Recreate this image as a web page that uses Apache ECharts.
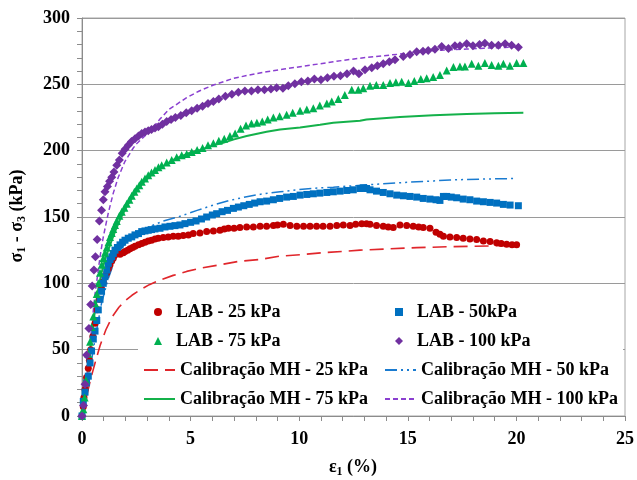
<!DOCTYPE html>
<html><head><meta charset="utf-8">
<script src="https://cdn.jsdelivr.net/npm/echarts@6/dist/echarts.min.js"></script>
<style>html,body{margin:0;padding:0;background:#fff}#c{width:637px;height:480px}</style>
</head><body><div id="c"></div>
<script>
// ---- data (strain %, deviator stress kPa) ----
const lab25 = [[0,0],[0.06,7],[0.09,14],[0.14,20],[0.21,29],[0.29,36],[0.34,42],[0.4,50],[0.5,60],[0.6,70],[0.7,80],[0.8,88],[0.9,96],[0.98,101],[1.06,105],[1.14,108],[1.21,111],[1.29,114],[1.37,117],[1.44,119],[1.52,121.5],[1.6,123.5],[1.75,122],[1.9,123],[1.98,124],[2.1,125],[2.21,126],[2.33,127],[2.44,128],[2.6,129],[2.75,130],[2.9,131],[3.05,132],[3.2,132.5],[3.36,133.5],[3.51,134],[3.74,134.5],[3.97,135],[4.2,135.5],[4.43,135.5],[4.66,136],[4.9,136.5],[5.12,137.5],[5.43,138],[5.74,139],[6.05,139.5],[6.35,140],[6.55,141],[6.74,141.5],[7.0,141.5],[7.27,142],[7.58,142.5],[7.89,142.5],[8.2,143],[8.5,143],[8.81,143.5],[9.0,144],[9.27,144.5],[9.58,143.5],[9.89,143],[10.2,143],[10.5,143],[10.8,143],[11.1,143],[11.42,143],[11.73,143.5],[12.03,144],[12.34,143.5],[12.6,144.5],[12.88,145],[13.1,145],[13.26,144.5],[13.56,143.5],[13.87,143],[14.1,142.5],[14.33,142],[14.64,144],[14.95,143.5],[15.25,143],[15.5,142.5],[15.71,142],[16.02,141.5],[16.3,138.5],[16.48,137],[16.64,135.5],[16.94,135],[17.25,134.5],[17.55,134],[17.86,133.5],[18.17,133],[18.48,132],[18.79,131.5],[19.09,130.5],[19.3,130],[19.55,129.5],[19.8,129],[20.01,129]];
const lab50 = [[0,0],[0.06,11],[0.14,18],[0.21,25],[0.29,30],[0.37,40],[0.44,49],[0.52,58],[0.6,64],[0.68,72],[0.75,80],[0.83,88],[0.9,94],[0.98,100],[1.06,105],[1.14,110],[1.21,115],[1.29,118],[1.37,120],[1.44,122.5],[1.52,125],[1.63,127],[1.75,129],[1.87,131],[1.98,132.5],[2.13,134],[2.29,135],[2.44,136.5],[2.6,137.5],[2.75,139],[2.9,139.5],[3.05,140],[3.2,140.5],[3.36,141],[3.59,141.5],[3.82,142.5],[4.05,143],[4.28,143.5],[4.51,144],[4.74,145],[5.0,146],[5.25,147],[5.5,148.5],[5.74,150],[6.0,151.5],[6.2,152.5],[6.45,154],[6.7,155],[6.97,156.5],[7.2,157.5],[7.45,158.5],[7.7,159.5],[7.95,160.5],[8.2,161.5],[8.5,162],[8.81,163],[9.1,164],[9.42,165],[9.73,165.5],[10.04,166.5],[10.35,167],[10.65,167.5],[10.95,168],[11.27,168.5],[11.57,169],[11.88,169.5],[12.19,170],[12.49,170.5],[12.8,171.5],[12.95,172],[13.1,171.5],[13.26,170.5],[13.56,169.5],[13.87,168.5],[14.18,167.5],[14.49,166.5],[14.8,166],[15.1,165.5],[15.41,165],[15.71,164],[16.02,163.5],[16.3,163],[16.48,162.5],[16.64,165.5],[16.79,165.5],[17.0,165],[17.25,164.5],[17.55,163.5],[17.86,163],[18.17,162],[18.48,161.5],[18.79,161],[19.09,160.5],[19.4,159.5],[19.71,159],[20.09,158.5]];
const lab75 = [[0,0],[0.06,5],[0.12,14],[0.18,27],[0.29,47],[0.37,56],[0.44,67],[0.52,75],[0.6,85],[0.68,92],[0.75,100],[0.83,108],[0.91,114],[0.98,119],[1.06,123],[1.14,127],[1.22,131],[1.29,135],[1.37,138],[1.44,141],[1.52,144],[1.6,147],[1.72,151],[1.83,154],[1.95,157],[2.06,160],[2.18,163],[2.29,166],[2.41,169],[2.52,171.5],[2.64,174],[2.75,176.5],[2.9,179],[3.05,181.5],[3.2,183.5],[3.36,185.5],[3.52,187.5],[3.67,189],[3.9,191],[4.13,193],[4.36,195],[4.59,196.5],[4.82,197.5],[5.05,199],[5.3,200.5],[5.55,202],[5.8,204],[6.05,205.5],[6.3,207.5],[6.55,209],[6.81,211],[7.05,213],[7.3,216.5],[7.55,219],[7.8,220.5],[8.05,221],[8.3,222],[8.55,223.5],[8.81,225],[9.1,226],[9.42,227],[9.7,228.5],[10.04,230],[10.35,231],[10.65,232],[10.95,234],[11.27,235.5],[11.5,237],[11.8,239],[12.1,242],[12.42,246],[12.72,246],[12.95,247],[13.26,249],[13.55,249.5],[13.87,249.5],[14.18,251],[14.45,251.5],[14.72,252],[15.03,251],[15.3,252.5],[15.6,254],[15.87,254.5],[16.17,255.5],[16.48,257],[16.79,260.5],[17.1,263],[17.4,263.5],[17.63,263.5],[17.94,265.5],[18.25,264],[18.55,266],[18.86,264.5],[19.17,264],[19.4,265.5],[19.7,264],[20.01,266],[20.32,266]];
const lab100 = [[0,0],[0.07,8],[0.14,24],[0.21,46],[0.32,66],[0.4,84],[0.47,98],[0.55,110],[0.62,120],[0.7,133],[0.8,147],[0.9,155],[0.98,163],[1.06,169],[1.17,173],[1.27,177],[1.37,180],[1.47,184],[1.6,189],[1.72,193],[1.85,198],[1.98,201],[2.13,204],[2.28,207],[2.44,209],[2.6,211],[2.75,213],[2.9,214],[3.05,215],[3.2,216],[3.36,217],[3.52,218],[3.7,220],[3.9,222],[4.1,223.5],[4.3,225],[4.55,226.5],[4.8,228.5],[5.05,230],[5.3,232],[5.55,233.5],[5.8,235.5],[6.05,237],[6.3,239],[6.6,241],[6.9,242.5],[7.2,244],[7.5,245],[7.8,245],[8.1,246],[8.4,246],[8.7,246.5],[8.96,247.5],[9.25,247],[9.5,249],[9.8,250.5],[10.1,252],[10.4,252.5],[10.7,254],[11.0,253.5],[11.3,255],[11.6,256],[11.9,256.5],[12.2,258],[12.5,260],[12.75,258],[13.03,261],[13.34,262.5],[13.6,264],[13.87,265.5],[14.15,267],[14.41,268.5],[14.79,271],[15.1,272.5],[15.41,274.5],[15.7,275],[15.94,275.5],[16.25,276.5],[16.56,278.5],[16.87,277],[17.17,279],[17.4,279],[17.71,280.5],[18.0,279],[18.3,280],[18.55,281],[18.86,279.5],[19.17,279.5],[19.48,280.5],[19.78,279.5],[20.09,278]];
const mh25 = [[0,0],[0.2,14],[0.4,28],[0.6,40],[0.83,53],[1.1,65],[1.4,75],[1.7,82],[2.0,87],[2.3,91],[2.67,95],[3.1,99],[3.59,102.5],[4.2,106],[4.82,109],[5.5,111.5],[6.35,114],[7.2,116.5],[8.2,118],[9.12,120.5],[10.04,121.5],[11,123],[12,124],[12.8,125],[13.87,125.8],[15.41,126.9],[16.94,127.6],[18.79,128.2],[20.1,128.8]];
const mh50 = [[0,0],[0.3,28],[0.6,58],[0.9,85],[1.2,103],[1.5,117],[1.8,126],[2.1,132],[2.5,137],[3.0,142],[3.74,147],[4.51,150.5],[5.3,155],[6.05,159],[6.8,162.5],[7.58,165.3],[8.35,167.5],[9.12,169],[9.9,170.5],[10.65,171.6],[11.57,172.5],[12.49,173.5],[13.2,174.3],[13.87,175],[14.6,175.8],[15.41,176.6],[16.2,177.2],[16.94,177.9],[17.7,178.3],[18.48,178.6],[19.2,178.8],[19.94,179]];
const mh75 = [[0,0],[0.1,8],[0.2,22],[0.3,40],[0.45,60],[0.6,80],[0.75,96],[0.9,108],[1.06,118],[1.29,129],[1.52,139],[1.75,148],[2.06,158],[2.44,168],[2.82,176],[3.28,183],[3.8,189],[4.3,194],[4.9,198],[5.43,200.5],[6.05,204],[6.5,206],[7.0,208.5],[7.58,211],[8.5,214.3],[9.12,216],[10.04,217.5],[10.96,219.5],[11.57,221],[12.8,222.5],[13.1,223.5],[14.64,225.3],[16.17,226.7],[17.71,227.6],[19,228.2],[20.32,228.6]];
const mh100 = [[0,0],[0.15,18],[0.3,40],[0.45,68],[0.6,92],[0.7,104],[0.83,120],[0.98,135],[1.21,153],[1.44,168],[1.67,180],[1.98,192],[2.36,202],[2.5,205],[2.82,210],[3.2,216],[3.6,224],[4.0,231],[4.82,240],[5.4,245],[6.05,249.5],[6.97,254.5],[7.7,257],[8.5,259.5],[9.3,261.5],[10.04,263.3],[10.96,265.5],[11.57,267],[12.3,268.7],[13.1,270.3],[13.9,271.6],[14.64,272.8],[15.4,274.1],[16.17,275.4],[16.9,276],[17.71,276.6],[18.5,277.2],[19.24,277.6],[20.09,278.3]];
const names = ['LAB - 25 kPa','LAB - 50kPa','LAB - 75 kPa','LAB - 100 kPa','Calibração MH - 25 kPa','Calibração MH - 50 kPa','Calibração MH - 75 kPa','Calibração MH - 100 kPa'];
const xMin = 0, xMax = 25, xStep = 5;
const yMin = 0, yMax = 300, yStep = 50;

const FONT = 'Liberation Serif';
const txt = {fontFamily: FONT, fontWeight: 'bold', fontSize: 18, color: '#000'};

function lineS(name, data, color, type, width){
  return {name, type:'line', data, symbol:'none', smooth:false, z:2,
    lineStyle:{color, width, type}, itemStyle:{color}};
}
function scat(name, data, color, symbol, size){
  return {name, type:'scatter', data, symbol, symbolSize:size, symbolKeepAspect:true, z:3,
    itemStyle:{color, opacity:1}};
}
const series = [
  lineS(names[4], mh25, '#e0262b', [14,7], 1.6),
  lineS(names[5], mh50, '#1a7bd0', [12,4,2,4,2,4], 1.5),
  lineS(names[6], mh75, '#14b14a', 'solid', 2),
  lineS(names[7], mh100, '#8a3fd0', [5,3], 1.5),
  scat(names[0], lab25, '#c00000', 'circle', 7),
  scat(names[1], lab50, '#0070c0', 'rect', 7),
  scat(names[2], lab75, '#00b050', 'triangle', 8),
  scat(names[3], lab100, '#7030a0', 'diamond', 9),
];

const col1 = 143, col2 = 384;
const rows = [312, 341, 370, 399];
// [series index, left, row centre, isLine]
const legPos = [
  [0, col1, rows[0], false],[1, col2, rows[0], false],
  [2, col1, rows[1], false],[3, col2, rows[1], false],
  [4, col1, rows[2], true],[5, col2, rows[2], true],
  [6, col1, rows[3], true],[7, col2, rows[3], true],
];
const legends = legPos.map(p => {
  if (p[3]) {
    return {data:[names[p[0]]], left:p[1], top:p[2]-9, itemWidth:31, itemHeight:14,
      padding:0, itemGap:0, textStyle:Object.assign({}, txt), selectedMode:false,
      itemStyle:{opacity:0, borderWidth:0}};
  }
  return {data:[names[p[0]]], left:p[1]+11, top:p[2]-9, itemWidth:8, itemHeight:8,
    symbolKeepAspect:true,
    padding:0, itemGap:0, textStyle:Object.assign({padding:[0,0,0,9]}, txt), selectedMode:false};
});

const option = {
  animation:false,
  backgroundColor:'#fff',
  grid:{left:82, right:12, top:18, bottom:64, show:true, borderColor:'#a6a6a6', borderWidth:1, backgroundColor:'transparent'},
  xAxis:{type:'value', min:xMin, max:xMax, interval:xStep,
    axisLine:{show:true, onZero:false, lineStyle:{color:'#8c8c8c', width:1}},
    axisTick:{show:true, inside:false, length:5, lineStyle:{color:'#8c8c8c'}},
    minorTick:{show:true, splitNumber:5, length:5, lineStyle:{color:'#8c8c8c'}},
    splitLine:{show:false},
    axisLabel:Object.assign({margin:14}, txt)},
  yAxis:{type:'value', min:yMin, max:yMax, interval:yStep,
    axisLine:{show:true, onZero:false, lineStyle:{color:'#8c8c8c', width:1}},
    axisTick:{show:true, inside:false, length:5, lineStyle:{color:'#8c8c8c'}},
    minorTick:{show:true, splitNumber:5, length:5, lineStyle:{color:'#8c8c8c'}},
    splitLine:{show:true, lineStyle:{color:'#9a9a9a', width:1}},
    axisLabel:Object.assign({margin:12}, txt)},
  legend:legends,
  graphic:[
    {type:'rect', shape:{x:138, y:295, width:485, height:118}, style:{fill:'#fff'}, z:3, silent:true},
    {type:'text', x:17, y:216, rotation:Math.PI/2, z:10,
      style:{text:'{m|σ}{s|1}{m| - σ}{s|3}{m| (kPa)}', align:'center', verticalAlign:'middle',
        rich:{m:{fontFamily:FONT, fontWeight:'bold', fontSize:18, lineHeight:22, fill:'#000'},
              s:{fontFamily:FONT, fontWeight:'bold', fontSize:12, lineHeight:14, verticalAlign:'bottom', fill:'#000'}}}},
    {type:'text', x:353, y:467, z:10,
      style:{text:'{m|ε}{s|1}{m| (%)}', align:'center', verticalAlign:'middle',
        rich:{m:{fontFamily:FONT, fontWeight:'bold', fontSize:18, lineHeight:22, fill:'#000'},
              s:{fontFamily:FONT, fontWeight:'bold', fontSize:12, lineHeight:14, verticalAlign:'bottom', fill:'#000'}}}}
  ],
  series
};
const chart = echarts.init(document.getElementById('c'), null, {renderer:'canvas'});
chart.setOption(option);
</script>
</body></html>
